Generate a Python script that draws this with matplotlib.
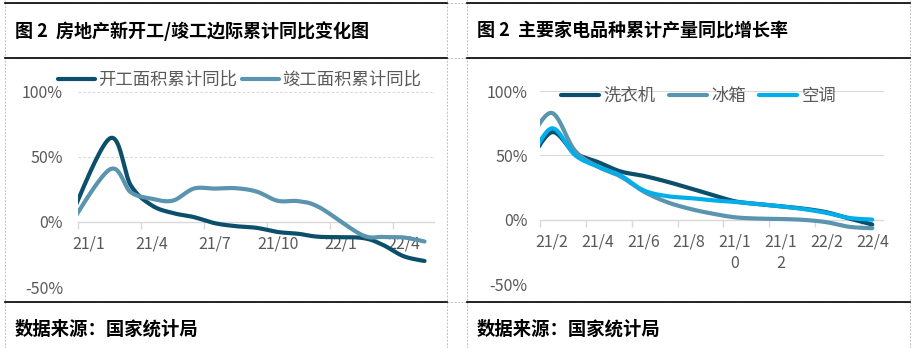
import numpy as np
import matplotlib
matplotlib.use('Agg')
import matplotlib.pyplot as plt
from matplotlib.lines import Line2D

plt.rcParams['font.family'] = ['Noto Sans CJK SC', 'DejaVu Sans']

# 左图: 房地产新开工/竣工面积累计同比 (%)
months_l = ['20/12', '21/2', '21/3', '21/4', '21/5', '21/6', '21/7', '21/8',
            '21/9', '21/10', '21/11', '21/12', '22/2', '22/3', '22/4', '22/5']
start_area = [-1.2, 64.3, 28.2, 12.8, 6.9, 3.8, -0.9, -3.2,
              -4.5, -7.7, -9.1, -11.4, -12.2, -17.5, -26.3, -30.0]
finish_area = [-4.9, 40.4, 22.9, 17.9, 16.4, 25.7, 25.7, 26.0,
               23.4, 16.3, 16.0, 11.2, -9.8, -11.5, -11.9, -15.0]
xlabels_l = ['21/1', '21/4', '21/7', '21/10', '22/1', '22/4']

# 右图: 主要家电品种累计产量同比 (%)
months_r = ['21/1', '21/2', '21/3', '21/4', '21/5', '21/6', '21/7', '21/8',
            '21/9', '21/10', '21/11', '21/12', '22/1', '22/2', '22/3', '22/4']
washer = [44, 68, 52, 45, 37.6, 34.2, 29.8, 24.7, 19.5, 14.4, 12.3, 10.5, 8.7, 5.9, 1.0, -3.6]
fridge = [61, 83, 54, 41.4, 33.7, 22.1, 14.0, 8.7, 4.9, 2.0, 1.0, 0.7, 0.0, -1.8, -5.4, -6.5]
aircon = [45, 71, 50.5, 41.4, 34.5, 23.0, 18.5, 17.0, 15.2, 13.9, 12.3, 10.5, 8.4, 5.4, 1.5, 0.2]
xlabels_r = ['21/2', '21/4', '21/6', '21/8', '21/10', '21/12', '22/2', '22/4']

W, H = 914, 348
DARK = '#0b4f6b'
LIGHT = '#5b94ae'
BRIGHT = '#00aeea'
GRID = '#d9d9d9'
TXT = '#595959'


def month_pos(label, base):
    yy, mm = label.split('/')
    return int(yy) * 12 + int(mm) - base


def smooth(x, y, n=24):
    # Excel 风格的平滑曲线 (Bezier)
    p = np.column_stack([x, y]).astype(float)
    p = np.vstack([p[0], p, p[-1]])
    t = np.linspace(0, 1, n)[:, None]
    out = []
    for i in range(1, len(p) - 2):
        p0, p1, p2, p3 = p[i - 1], p[i], p[i + 1], p[i + 2]
        c1 = p1 + (p2 - p0) / 6
        c2 = p2 - (p3 - p1) / 6
        seg = (1 - t) ** 3 * p1 + 3 * (1 - t) ** 2 * t * c1 + 3 * (1 - t) * t ** 2 * c2 + t ** 3 * p2
        out.append(seg if i == 1 else seg[1:])
    out = np.vstack(out)
    return out[:, 0], out[:, 1]


def fx(x):
    return x / W


def fy(y):
    return 1 - y / H


fig = plt.figure(figsize=(W / 100, H / 100), dpi=100)

# 表格框线
for x in [5, 447, 467, 910]:
    fig.add_artist(Line2D([fx(x), fx(x)], [0, 1], transform=fig.transFigure,
                          color='#c0c0c0', lw=0.7, ls=(0, (2, 1.5))))
for y in [3, 58, 302]:
    fig.add_artist(Line2D([fx(5), fx(910)], [fy(y), fy(y)], transform=fig.transFigure,
                          color='#c0c0c0', lw=0.7, ls=(0, (2, 1.5))))
    for a, b in [(5, 447), (467, 910)]:
        fig.add_artist(Line2D([fx(a), fx(b)], [fy(y), fy(y)], transform=fig.transFigure,
                              color='black', lw=1.2))

# 标题和来源
fig.text(fx(15), fy(31), '图 2  房地产新开工/竣工边际累计同比变化图', fontsize=13,
         fontweight='bold', va='center', ha='left')
fig.text(fx(477), fy(31), '图 2  主要家电品种累计产量同比增长率', fontsize=13,
         fontweight='bold', va='center', ha='left')
fig.text(fx(15), fy(329), '数据来源：国家统计局', fontsize=13.2, fontweight='bold', va='center')
fig.text(fx(477), fy(329), '数据来源：国家统计局', fontsize=13.2, fontweight='bold', va='center')


def setup(ax, xlim, minor, labels_pos, labels, dashed, ypad):
    ax.set_xlim(*xlim)
    ax.set_ylim(-50, 100)
    for s in ax.spines.values():
        s.set_visible(False)
    ax.spines['bottom'].set_position(('data', 0))
    ls = (0, (2.6, 1.9)) if dashed else '-'
    for v in [100, 50, -50]:
        ax.axhline(v, color=GRID, lw=0.75, ls=ls, zorder=0)
    ax.axhline(0, color=GRID, lw=1.0, zorder=0)
    ax.set_yticks([-50, 0, 50, 100])
    ax.set_yticklabels(['-50%', '0%', '50%', '100%'])
    ax.tick_params(axis='y', length=0, pad=ypad, labelsize=11.5, labelcolor=TXT)
    ax.set_xticks(labels_pos)
    ax.set_xticklabels(labels, linespacing=1.3)
    ax.set_xticks(minor, minor=True)
    ax.tick_params(axis='x', which='major', length=0, pad=10, labelsize=11.5, labelcolor=TXT)
    ax.tick_params(axis='x', which='minor', length=5, width=1.0, color=GRID, direction='out')
    ax.set_facecolor('none')


# 左图
ax1 = fig.add_axes([fx(78.3), fy(287), fx(435) - fx(78.3), fy(92) - fy(287)])
base_l = 21 * 12 + 1
xl = [month_pos(m, base_l) for m in months_l]
pos_l = [month_pos(m, base_l) for m in xlabels_l]
setup(ax1, (-0.5, 16.5), [p - 0.5 for p in pos_l], pos_l, xlabels_l, True, 11)
sx, sy = smooth(xl, start_area)
ax1.plot(sx, sy, color=DARK, lw=3, solid_capstyle='round', label='开工面积累计同比')
sx, sy = smooth(xl, finish_area)
ax1.plot(sx, sy, color=LIGHT, lw=3, solid_capstyle='round', label='竣工面积累计同比')
ax1.legend(loc='center left', bbox_to_anchor=(fx(58), fy(80)), bbox_transform=fig.transFigure,
           frameon=False, ncol=2, fontsize=12.5, labelcolor=TXT, borderpad=0, borderaxespad=0,
           handlelength=2.15, handletextpad=0.15, columnspacing=0.3)

# 右图
ax2 = fig.add_axes([fx(540.3), fy(284.3), fx(883.7) - fx(540.3), fy(91) - fy(284.3)])
base_r = 21 * 12 + 2
xr = [month_pos(m, base_r) for m in months_r]
pos_r = [month_pos(m, base_r) for m in xlabels_r]
wrapped = [m if len(m) <= 4 else m[:4] + '\n' + m[4:] for m in xlabels_r]
setup(ax2, (-0.5, 14.5), [p - 0.5 for p in pos_r], pos_r, wrapped, False, 9)
for vals, c, name in [(washer, DARK, '洗衣机'), (fridge, LIGHT, '冰箱'), (aircon, BRIGHT, '空调')]:
    sx, sy = smooth(xr, vals)
    ax2.plot(sx, sy, color=c, lw=3, solid_capstyle='round', label=name)
ax2.legend(loc='center left', bbox_to_anchor=(fx(561), fy(96)), bbox_transform=fig.transFigure,
           frameon=False, ncol=3, fontsize=12.5, labelcolor=TXT, borderpad=0, borderaxespad=0,
           handlelength=2.2, handletextpad=0.25, columnspacing=0.75)

fig.savefig('out.png', dpi=100)
